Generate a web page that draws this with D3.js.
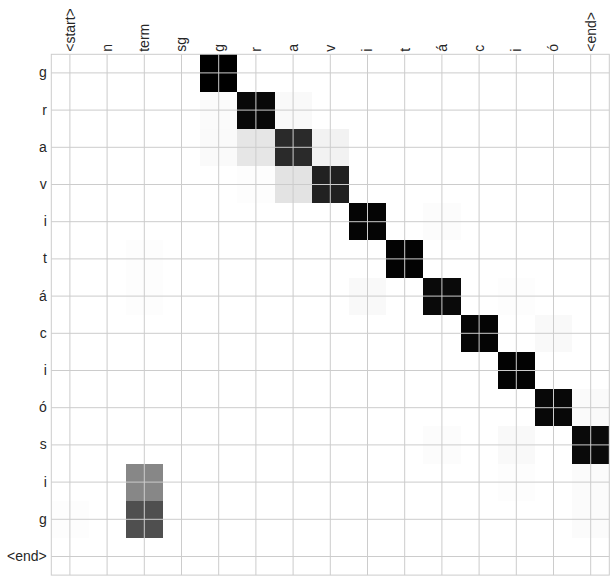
<!DOCTYPE html>
<html><head><meta charset="utf-8">
<script src="https://cdn.jsdelivr.net/npm/d3@7"></script>
<style>body{margin:0;background:#fff}svg{display:block}</style>
</head><body>
<svg id="c" width="615" height="582"></svg>
<script>
const xLabels = ["<start>", "n", "term", "sg", "g", "r", "a", "v", "i", "t", "á", "c", "i", "ó", "<end>"];
const yLabels = ["g", "r", "a", "v", "i", "t", "á", "c", "i", "ó", "s", "i", "g", "<end>"];
const weights = [
  [0, 0, 0, 0, 1.00, 0, 0, 0, 0, 0, 0, 0, 0, 0, 0],
  [0, 0, 0, 0, 0.016, 0.97, 0.025, 0, 0, 0, 0, 0, 0, 0, 0],
  [0, 0, 0, 0, 0.02, 0.10, 0.835, 0.05, 0, 0, 0, 0, 0, 0, 0],
  [0, 0, 0, 0, 0, 0.008, 0.11, 0.87, 0, 0, 0, 0, 0, 0, 0],
  [0, 0, 0, 0, 0, 0, 0, 0, 0.98, 0, 0.012, 0, 0, 0, 0],
  [0, 0, 0.008, 0, 0, 0, 0, 0, 0, 0.99, 0, 0, 0, 0, 0],
  [0, 0, 0.008, 0, 0, 0, 0, 0, 0.025, 0, 0.96, 0, 0.008, 0, 0],
  [0, 0, 0, 0, 0, 0, 0, 0, 0, 0, 0, 0.98, 0, 0.025, 0],
  [0, 0, 0, 0, 0, 0, 0, 0, 0, 0, 0, 0, 0.99, 0, 0],
  [0, 0, 0, 0, 0, 0, 0, 0, 0, 0, 0, 0, 0, 0.97, 0.02],
  [0, 0, 0, 0, 0, 0, 0, 0, 0, 0, 0.012, 0, 0.025, 0, 0.96],
  [0, 0, 0.47, 0, 0, 0, 0, 0, 0, 0, 0, 0, 0.008, 0, 0.016],
  [0.008, 0, 0.69, 0, 0, 0, 0, 0, 0, 0, 0, 0, 0, 0, 0.016],
  [0, 0, 0, 0, 0, 0, 0, 0, 0, 0, 0, 0, 0, 0, 0]
];

const plotLeft = 51.3, plotTop = 54.3, cellSize = 37.2;
const innerW = cellSize * xLabels.length, innerH = cellSize * yLabels.length;
const svg = d3.select("#c");
const font = "'Liberation Sans', Arial, sans-serif";

const x = d3.scaleBand().domain(d3.range(xLabels.length)).range([plotLeft, plotLeft + innerW]);
const y = d3.scaleBand().domain(d3.range(yLabels.length)).range([plotTop, plotTop + innerH]);
const color = d3.scaleLinear().domain([0, 1]).range(["#ffffff", "#000000"]);

const cells = [];
weights.forEach((row, i) => row.forEach((v, j) => cells.push({i, j, v})));
svg.append("g").selectAll("rect").data(cells).join("rect")
  .attr("x", d => x(d.j)).attr("y", d => y(d.i))
  .attr("width", x.bandwidth()).attr("height", y.bandwidth())
  .attr("fill", d => color(d.v)).attr("shape-rendering", "crispEdges");

// gridlines
const gx = svg.append("g").attr("transform", `translate(0,${plotTop})`)
  .call(d3.axisTop(x).tickSize(-innerH).tickFormat(""));
const gy = svg.append("g").attr("transform", `translate(${plotLeft},0)`)
  .call(d3.axisLeft(y).tickSize(-innerW).tickFormat(""));
[gx, gy].forEach(g => {
  g.select(".domain").remove();
  g.selectAll("line").attr("stroke", "#cccccc").attr("stroke-width", 1);
});

// frame
svg.append("rect").attr("x", plotLeft).attr("y", plotTop).attr("width", innerW).attr("height", innerH)
  .attr("fill", "none").attr("stroke", "#cccccc").attr("stroke-width", 1);

// labels
const lx = svg.append("g").attr("transform", `translate(0,${plotTop})`)
  .call(d3.axisTop(x).tickSize(0).tickFormat(i => xLabels[i]));
lx.select(".domain").remove();
lx.selectAll("text")
  .attr("transform", "rotate(-90)").attr("x", 2.5).attr("y", 0).attr("dy", "0.35em")
  .attr("text-anchor", "start")
  .attr("font-family", font).attr("font-size", 14).attr("fill", "#262626");

const ly = svg.append("g").attr("transform", `translate(${plotLeft},0)`)
  .call(d3.axisLeft(y).tickSize(0).tickPadding(4.5).tickFormat(i => yLabels[i]));
ly.select(".domain").remove();
ly.selectAll("text").attr("font-family", font).attr("font-size", 14).attr("fill", "#262626");
</script>
</body></html>
